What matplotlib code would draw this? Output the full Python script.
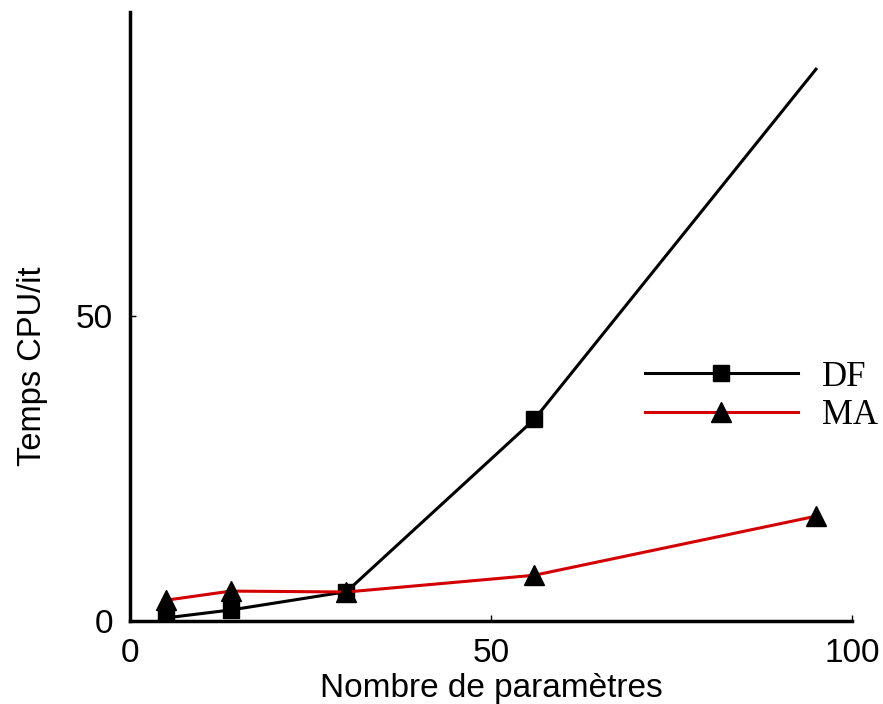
import matplotlib.pyplot as plt

n_params = [5, 14, 30, 56, 95]
df_time = [0.5, 1.8, 4.8, 33.1, 90.6]
ma_time = [3.4, 4.9, 4.75, 7.5, 17.2]

fig = plt.figure(figsize=(8.83, 7.04), dpi=100)
ax = fig.add_axes([0.147, 0.118, 0.818, 0.865])

ax.plot(n_params, df_time, '-s', color='black', lw=2.2, markersize=12,
        markevery=[0, 1, 2, 3], label='DF')
ax.plot(n_params, ma_time, '-^', color='#d40000', lw=2.2, markersize=14,
        markerfacecolor='black', markeredgecolor='black', label='MA')

ax.set_xlim(0, 100)
ax.set_ylim(0, 100)
ax.set_xticks([0, 50, 100])
ax.set_yticks([0, 50])
for s in ['top', 'right']:
    ax.spines[s].set_visible(False)
for s in ['left', 'bottom']:
    ax.spines[s].set_linewidth(2.5)
ax.tick_params(direction='in', length=4, width=1, labelsize=24, pad=12,
               labelfontfamily='Liberation Sans')

ax.set_xlabel('Nombre de paramètres', fontsize=24, family='Liberation Sans', labelpad=3)
ax.set_ylabel('Temps CPU/it', fontsize=23.5, family='Liberation Sans')
ax.yaxis.set_label_coords(-0.113, 0.419)

ax.legend(loc='center left', bbox_to_anchor=(0.713, 0.369), frameon=False,
          prop={'family': 'Liberation Serif', 'size': 25}, handlelength=4.4,
          handletextpad=0.7, labelspacing=0.15, borderpad=0, borderaxespad=0)

fig.savefig('out.png', dpi=100)
